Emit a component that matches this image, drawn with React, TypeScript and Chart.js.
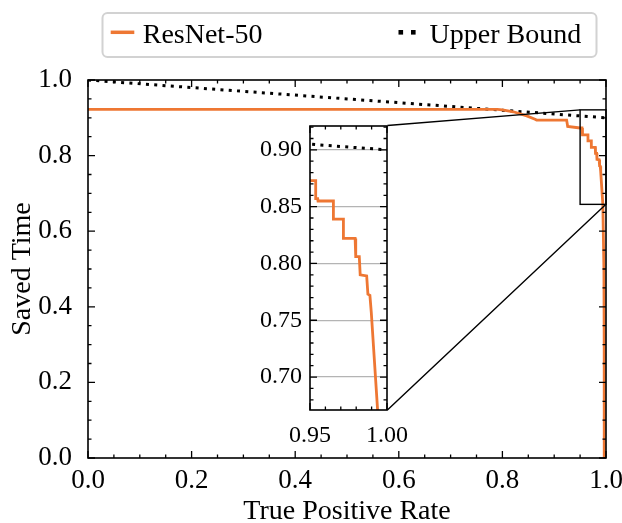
import { useEffect, useRef } from "react";
import { Chart, registerables } from "chart.js";

Chart.register(...registerables);

const W = 622;
const H = 523;
const SERIF = '"Liberation Serif", "Times New Roman", serif';
const ORANGE = "#EE7733";

// ResNet-50: true positive rate vs. fraction of saved time
const tprResNet = [
  0, 0.79, 0.8, 0.821, 0.847, 0.863, 0.866, 0.924, 0.926, 0.95, 0.9537, 0.9537,
  0.955, 0.9552, 0.9652, 0.9652, 0.9717, 0.9717, 0.9793, 0.9797, 0.982, 0.9826,
  0.9868, 0.9876, 0.9889, 0.9898, 0.9939, 0.996, 0.9965, 0.9966,
];
const savedResNet = [
  0.9225, 0.9225, 0.921, 0.916, 0.905, 0.896, 0.894, 0.894, 0.877, 0.873, 0.873, 0.857,
  0.857, 0.855, 0.855, 0.839, 0.839, 0.822, 0.822, 0.806, 0.806, 0.79,
  0.789, 0.773, 0.772, 0.757, 0.671, 0.5, 0.3, 0.0,
];

// Upper bound on saved time
const tprUpper = [0, 1];
const savedUpper = [1.0, 0.9];

// Axis ticks
const mainTicks = [0, 0.2, 0.4, 0.6, 0.8, 1.0];
const mainTickLabels = ["0.0", "0.2", "0.4", "0.6", "0.8", "1.0"];
const insetXTicks = [0.95, 1.0];
const insetXTickLabels = ["0.95", "1.00"];
const insetYTicks = [0.7, 0.75, 0.8, 0.85, 0.9];
const insetYTickLabels = ["0.70", "0.75", "0.80", "0.85", "0.90"];

// Zoomed region and where the inset sits (both in main-axes data units)
const zoomX = [0.95, 1.0];
const zoomY = [0.671, 0.921];
const insetAtX = [0.4286, 0.578];
const insetAtY = [0.127, 0.8796];

// Inset canvas margins around its plotting area
const IN_AXIS_W = 60;
const IN_AXIS_H = 40;
const IN_PAD_T = 10;
const IN_PAD_R = 30;

function minorTicks(lo: number, hi: number, step: number, majors: number[]) {
  const out: number[] = [];
  const n = Math.round((hi - lo) / step);
  for (let i = 0; i <= n; i++) {
    const v = +(lo + i * step).toFixed(6);
    if (!majors.some((m) => Math.abs(m - v) < step / 10)) out.push(v);
  }
  return out;
}

const toPoints = (xs: number[], ys: number[]) => xs.map((x, i) => ({ x, y: ys[i] }));

// White plotting area, inward ticks on all four sides and a closed frame
const framePlugin = {
  id: "frame",
  beforeDraw(chart: any) {
    const { ctx, chartArea: a } = chart;
    ctx.save();
    ctx.fillStyle = "#fff";
    ctx.fillRect(a.left, a.top, a.right - a.left, a.bottom - a.top);
    ctx.restore();
  },
  afterDatasetsDraw(chart: any, _args: any, opts: any) {
    const { ctx, chartArea: a, scales } = chart;
    const xs = scales.x;
    const ys = scales.y;
    ctx.save();
    ctx.strokeStyle = "#000";
    ctx.lineWidth = 1.3;
    ctx.beginPath();
    const xt = (vals: number[], len: number) => {
      vals.forEach((v) => {
        const p = xs.getPixelForValue(v);
        ctx.moveTo(p, a.bottom);
        ctx.lineTo(p, a.bottom - len);
        ctx.moveTo(p, a.top);
        ctx.lineTo(p, a.top + len);
      });
    };
    const yt = (vals: number[], len: number) => {
      vals.forEach((v) => {
        const p = ys.getPixelForValue(v);
        ctx.moveTo(a.left, p);
        ctx.lineTo(a.left + len, p);
        ctx.moveTo(a.right, p);
        ctx.lineTo(a.right - len, p);
      });
    };
    xt(opts.xMajor, opts.major);
    xt(opts.xMinor, opts.minor);
    yt(opts.yMajor, opts.major);
    yt(opts.yMinor, opts.minor);
    ctx.stroke();
    ctx.lineWidth = 1.6;
    ctx.strokeRect(a.left, a.top, a.right - a.left, a.bottom - a.top);
    ctx.restore();
  },
};

// Rectangle around the zoomed region plus connectors to the inset
const zoomMarkPlugin = {
  id: "zoomMark",
  afterDatasetsDraw(chart: any) {
    const { ctx, scales } = chart;
    const xs = scales.x;
    const ys = scales.y;
    const l = xs.getPixelForValue(zoomX[0]);
    const r = xs.getPixelForValue(zoomX[1]);
    const t = ys.getPixelForValue(zoomY[1]);
    const b = ys.getPixelForValue(zoomY[0]);
    const ir = xs.getPixelForValue(insetAtX[1]);
    const it = ys.getPixelForValue(insetAtY[1]);
    const ib = ys.getPixelForValue(insetAtY[0]);
    ctx.save();
    ctx.strokeStyle = "#000";
    ctx.lineWidth = 1.4;
    ctx.strokeRect(l, t, r - l, b - t);
    ctx.beginPath();
    ctx.moveTo(ir, it);
    ctx.lineTo(l, t);
    ctx.moveTo(ir, ib);
    ctx.lineTo(r, b);
    ctx.stroke();
    ctx.restore();
  },
};

// Framed two-column legend above the plot
const boxLegendPlugin = {
  id: "boxLegend",
  afterDraw(chart: any) {
    const { ctx } = chart;
    const [resnet, upper] = chart.data.datasets;
    ctx.save();
    ctx.beginPath();
    ctx.roundRect(102.5, 13, 494, 44, 5);
    ctx.fillStyle = "#fff";
    ctx.fill();
    ctx.strokeStyle = "#d2d2d2";
    ctx.lineWidth = 2;
    ctx.stroke();

    ctx.font = `28px ${SERIF}`;
    ctx.fillStyle = "#000";
    ctx.textBaseline = "alphabetic";
    ctx.textAlign = "left";

    ctx.beginPath();
    ctx.strokeStyle = resnet.borderColor;
    ctx.lineWidth = 3.5;
    ctx.moveTo(110.7, 32.3);
    ctx.lineTo(134.3, 32.3);
    ctx.stroke();
    ctx.fillText(resnet.label, 142.7, 42.7);

    ctx.fillStyle = upper.borderColor;
    ctx.fillRect(398.5, 30, 4.6, 4.6);
    ctx.fillRect(411, 30, 4.6, 4.6);
    ctx.fillStyle = "#000";
    ctx.fillText(upper.label, 429.5, 42.7);
    ctx.restore();
  },
};

function datasets(lineW: number) {
  return [
    {
      label: "ResNet-50",
      data: toPoints(tprResNet, savedResNet),
      borderColor: ORANGE,
      borderWidth: lineW,
      pointRadius: 0,
      tension: 0,
      fill: false,
      clip: 0,
      borderJoinStyle: "miter" as const,
    },
    {
      label: "Upper Bound",
      data: toPoints(tprUpper, savedUpper),
      borderColor: "#000",
      borderWidth: 3,
      borderDash: [3, 5.3],
      pointRadius: 0,
      tension: 0,
      fill: false,
      clip: 0,
    },
  ];
}

export default function App() {
  const mainRef = useRef<HTMLCanvasElement>(null);
  const insetRef = useRef<HTMLCanvasElement>(null);

  useEffect(() => {
    const mainCanvas = mainRef.current!;
    const insetCanvas = insetRef.current!;

    const tickFont = { family: SERIF, size: 27, lineHeight: 1 };
    const titleFont = { family: SERIF, size: 28, lineHeight: 1 };

    const main = new Chart(mainCanvas, {
      type: "line",
      data: { datasets: datasets(2.8) as any },
      options: {
        responsive: false,
        maintainAspectRatio: false,
        animation: false,
        events: [],
        layout: { padding: { top: 80, right: 16, left: 0, bottom: 0 } },
        plugins: {
          legend: { display: false },
          tooltip: { enabled: false },
          frame: {
            xMajor: mainTicks,
            xMinor: minorTicks(0, 1, 0.05, mainTicks),
            yMajor: mainTicks,
            yMinor: minorTicks(0, 1, 0.05, mainTicks),
            major: 7,
            minor: 3.5,
          },
        } as any,
        scales: {
          x: {
            type: "linear",
            min: 0,
            max: 1,
            grid: { display: false },
            border: { display: false },
            afterBuildTicks: (s: any) => {
              s.ticks = mainTicks.map((value) => ({ value }));
            },
            afterFit: (s: any) => {
              s.height = 65;
              s.paddingLeft = 0;
              s.paddingRight = 0;
            },
            ticks: {
              autoSkip: false,
              maxRotation: 0,
              minRotation: 0,
              padding: 1,
              color: "#000",
              font: tickFont,
              callback: (_v: any, i: number) => mainTickLabels[i],
            },
            title: {
              display: true,
              text: "True Positive Rate",
              color: "#000",
              font: titleFont,
              padding: { top: 0, bottom: -3 },
            },
          },
          y: {
            type: "linear",
            min: 0,
            max: 1,
            grid: { display: false },
            border: { display: false },
            afterBuildTicks: (s: any) => {
              s.ticks = mainTicks.map((value) => ({ value }));
            },
            afterFit: (s: any) => {
              s.width = 88;
              s.paddingTop = 0;
              s.paddingBottom = 0;
            },
            ticks: {
              autoSkip: false,
              padding: 8,
              color: "#000",
              font: tickFont,
              callback: (_v: any, i: number) => mainTickLabels[i],
            },
            title: {
              display: true,
              text: "Saved Time",
              color: "#000",
              font: titleFont,
              padding: { top: 9, bottom: 0 },
            },
          },
        },
      },
      plugins: [framePlugin, zoomMarkPlugin, boxLegendPlugin],
    });

    // Place the inset canvas so its plotting area lands on the inset box
    const xs = main.scales.x;
    const ys = main.scales.y;
    const L = Math.round(xs.getPixelForValue(insetAtX[0]));
    const R = Math.round(xs.getPixelForValue(insetAtX[1]));
    const T = Math.round(ys.getPixelForValue(insetAtY[1]));
    const B = Math.round(ys.getPixelForValue(insetAtY[0]));
    const cw = IN_AXIS_W + (R - L) + IN_PAD_R;
    const ch = IN_PAD_T + (B - T) + IN_AXIS_H;
    insetCanvas.width = cw;
    insetCanvas.height = ch;
    insetCanvas.style.width = `${cw}px`;
    insetCanvas.style.height = `${ch}px`;
    insetCanvas.style.left = `${L - IN_AXIS_W}px`;
    insetCanvas.style.top = `${T - IN_PAD_T}px`;

    const insetFont = { family: SERIF, size: 24, lineHeight: 1.2 };

    const inset = new Chart(insetCanvas, {
      type: "line",
      data: { datasets: datasets(2.8) as any },
      options: {
        responsive: false,
        maintainAspectRatio: false,
        animation: false,
        events: [],
        layout: { padding: { top: IN_PAD_T, right: IN_PAD_R, left: 0, bottom: 0 } },
        plugins: {
          legend: { display: false },
          tooltip: { enabled: false },
          frame: {
            xMajor: insetXTicks,
            xMinor: minorTicks(0.95, 1.0, 0.01, insetXTicks),
            yMajor: insetYTicks,
            yMinor: minorTicks(0.67, 0.92, 0.01, insetYTicks).filter(
              (v) => v > zoomY[0] && v < zoomY[1]
            ),
            major: 7,
            minor: 3.5,
          },
        } as any,
        scales: {
          x: {
            type: "linear",
            min: zoomX[0],
            max: zoomX[1],
            grid: { display: false },
            border: { display: false },
            afterBuildTicks: (s: any) => {
              s.ticks = insetXTicks.map((value) => ({ value }));
            },
            afterFit: (s: any) => {
              s.height = IN_AXIS_H;
              s.paddingLeft = 0;
              s.paddingRight = 0;
            },
            ticks: {
              autoSkip: false,
              maxRotation: 0,
              minRotation: 0,
              padding: 3,
              color: "#000",
              font: insetFont,
              callback: (_v: any, i: number) => insetXTickLabels[i],
            },
          },
          y: {
            type: "linear",
            min: zoomY[0],
            max: zoomY[1],
            grid: { display: true, color: "#b4b4b4", lineWidth: 1.2, drawTicks: false },
            border: { display: false },
            afterBuildTicks: (s: any) => {
              s.ticks = insetYTicks.map((value) => ({ value }));
            },
            afterFit: (s: any) => {
              s.width = IN_AXIS_W;
              s.paddingTop = 0;
              s.paddingBottom = 0;
            },
            ticks: {
              autoSkip: false,
              padding: 8,
              color: "#000",
              font: insetFont,
              callback: (_v: any, i: number) => insetYTickLabels[i],
            },
          },
        },
      },
      plugins: [framePlugin],
    });

    return () => {
      inset.destroy();
      main.destroy();
    };
  }, []);

  return (
    <div
      style={{
        position: "fixed",
        left: 0,
        top: 0,
        width: W,
        height: H,
        background: "#fff",
        overflow: "hidden",
      }}
    >
      <canvas
        ref={mainRef}
        width={W}
        height={H}
        style={{ position: "absolute", left: 0, top: 0, width: W, height: H }}
      />
      <canvas ref={insetRef} style={{ position: "absolute" }} />
    </div>
  );
}
